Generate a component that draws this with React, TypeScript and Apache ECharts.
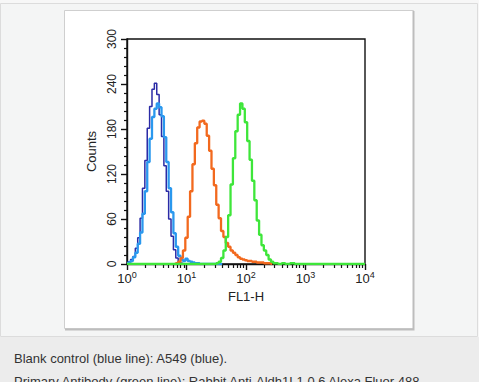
import React, { useEffect, useRef } from "react";
import * as echarts from "echarts";

// Histogram data: [log10(FL1-H), count]
const darkBlue: [number, number][] = [
  [0.0, 2], [0.04, 3], [0.08, 6], [0.12, 10], [0.16, 21], [0.2, 35], [0.24, 61], [0.28, 101],
  [0.32, 138], [0.36, 181], [0.4, 210], [0.44, 233], [0.48, 241], [0.52, 226], [0.56, 199],
  [0.6, 170], [0.64, 131], [0.68, 97], [0.72, 60], [0.76, 37], [0.8, 19], [0.84, 8], [0.88, 3],
  [0.92, 1], [0.96, 0],
];
const lightBlue: [number, number][] = [
  [0.0, 1], [0.04, 2], [0.08, 4], [0.12, 9], [0.16, 15], [0.2, 27], [0.24, 42], [0.28, 67],
  [0.32, 97], [0.36, 136], [0.4, 167], [0.44, 196], [0.48, 207], [0.52, 214], [0.56, 209],
  [0.6, 197], [0.64, 169], [0.68, 136], [0.72, 101], [0.76, 69], [0.8, 41], [0.84, 23], [0.88, 11],
  [0.92, 6], [0.96, 4], [1.0, 7], [1.04, 4], [1.08, 3], [1.12, 2], [1.16, 1], [1.2, 1], [1.24, 0],
  [1.6, 0],
];
const orange: [number, number][] = [
  [0.8, 0], [0.84, 1], [0.88, 3], [0.92, 8], [0.96, 18], [1.0, 35], [1.04, 63], [1.08, 97],
  [1.12, 133], [1.16, 161], [1.2, 182], [1.24, 190], [1.28, 191], [1.32, 187], [1.36, 171],
  [1.4, 151], [1.44, 127], [1.48, 105], [1.52, 79], [1.56, 61], [1.6, 44], [1.64, 36], [1.68, 28],
  [1.72, 23], [1.76, 18], [1.8, 15], [1.84, 12], [1.88, 9], [1.92, 7], [1.96, 6], [2.0, 5],
  [2.04, 4], [2.08, 4], [2.12, 3], [2.16, 3], [2.2, 2], [2.24, 2], [2.28, 2], [2.32, 1],
  [2.36, 1], [2.4, 1], [2.44, 0],
];
const green: [number, number][] = [
  [0.0, 0], [1.48, 0], [1.52, 1], [1.56, 3], [1.6, 8], [1.64, 18], [1.68, 36], [1.72, 65],
  [1.76, 106], [1.8, 141], [1.84, 177], [1.88, 199], [1.92, 214], [1.96, 207], [2.0, 189],
  [2.04, 164], [2.08, 139], [2.12, 111], [2.16, 85], [2.2, 58], [2.24, 39], [2.28, 25],
  [2.32, 18], [2.36, 12], [2.4, 6], [2.44, 3], [2.48, 1], [2.52, 1], [2.56, 0], [2.64, 1],
  [2.68, 0], [2.8, 1], [2.84, 0], [4.0, 0],
];

const xExponents = ["0", "1", "2", "3", "4"];
const yTicks = [0, 60, 120, 180, 240, 300];
const captionLines = [
  "Blank control (blue line): A549 (blue).",
  "Primary Antibody (green line): Rabbit Anti-Aldh1L1 0.6 Alexa Fluor 488",
];

const FONT = "'Liberation Sans', Arial, sans-serif";

export default function App() {
  const ref = useRef<HTMLDivElement>(null);
  useEffect(() => {
    if (!ref.current) return;
    const chart = echarts.init(ref.current, undefined, { renderer: "svg" });
    const minorLog: number[] = [];
    for (let d = 0; d < 4; d++) for (let k = 2; k <= 9; k++) minorLog.push(d + Math.log10(k));

    const mk = (name: string, data: [number, number][], color: string, width: number) => ({
      name,
      type: "line",
      data,
      step: "middle",
      symbol: "none",
      xAxisIndex: 0,
      yAxisIndex: 0,
      lineStyle: { color, width },
      silent: true,
    });

    chart.setOption({
      animation: false,
      backgroundColor: "#ececec",
      textStyle: { fontFamily: FONT },
      graphic: [
        { type: "rect", z: -10, shape: { x: 0, y: 0, width: 479, height: 337 }, style: { fill: "#f7f7f7" } },
        {
          type: "rect", z: -9,
          shape: { x: 0.5, y: 3.5, width: 477, height: 333 },
          style: { fill: "#f4f5f5", stroke: "#dcdcdc", lineWidth: 1 },
        },
        {
          type: "rect", z: -8,
          shape: { x: 64.5, y: 10.5, width: 349, height: 318 },
          style: { fill: "#ffffff", stroke: "#cfcfcf", lineWidth: 1 },
        },
        {
          type: "polyline", z: -7,
          shape: { points: [[413.5, 11], [413.5, 329.5], [65, 329.5]] },
          style: { stroke: "#bdbdbd", lineWidth: 2, fill: "none" },
        },
        {
          type: "text", left: 14, top: 352,
          style: { text: captionLines[0], fill: "#333", font: `13px ${FONT}` },
        },
        {
          type: "text", left: 14, top: 375,
          style: { text: captionLines[1], fill: "#333", font: `13px ${FONT}` },
        },
      ],
      grid: {
        left: 127, top: 39, width: 238, height: 225,
        show: true, borderColor: "#111", borderWidth: 1.4, backgroundColor: "transparent",
      },
      xAxis: [
        {
          type: "value", min: 0, max: 4, interval: 1,
          axisLine: { show: true, lineStyle: { color: "#111", width: 1.4 } },
          axisTick: { show: true, inside: false, length: 6, lineStyle: { color: "#111", width: 1.4 } },
          splitLine: { show: false },
          axisLabel: {
            margin: 6,
            color: "#222",
            formatter: (v: number) => `{b|10}{s|${xExponents[Math.round(v)]}}`,
            rich: {
              b: { fontSize: 13, fontFamily: FONT, color: "#222", lineHeight: 16 },
              s: { fontSize: 9, fontFamily: FONT, color: "#222", verticalAlign: "top", lineHeight: 16 },
            },
          },
          name: "FL1-H",
          nameLocation: "middle",
          nameGap: 26,
          nameTextStyle: { fontSize: 13, color: "#222", fontFamily: FONT },
        },
        {
          type: "value", min: 0, max: 4, position: "bottom",
          axisLine: { show: false },
          axisLabel: { show: false },
          splitLine: { show: false },
          axisTick: { show: true, inside: false, length: 4, customValues: minorLog, lineStyle: { color: "#111", width: 1.2 } },
        },
      ],
      yAxis: {
        type: "value", min: yTicks[0], max: yTicks[yTicks.length - 1], interval: 60,
        axisLine: { show: true, lineStyle: { color: "#111", width: 1.4 } },
        axisTick: { show: true, inside: false, length: 6, lineStyle: { color: "#111", width: 1.4 } },
        minorTick: { show: true, splitNumber: 5, length: 3, lineStyle: { color: "#111", width: 1.2 } },
        splitLine: { show: false },
        axisLabel: { rotate: 90, margin: 9, fontSize: 12, color: "#222", fontFamily: FONT },
        name: "Counts",
        nameLocation: "middle",
        nameGap: 29,
        nameRotate: 90,
        nameTextStyle: { fontSize: 13, color: "#222", fontFamily: FONT },
      },
      series: [
        mk("Blank control", darkBlue, "#2b2ba6", 1.5),
        mk("A549 isotype", lightBlue, "#2a98ee", 2.3),
        mk("Orange", orange, "#f2691e", 2.3),
        mk("Primary antibody", green, "#3ee63a", 2.3),
      ],
    });
    return () => chart.dispose();
  }, []);
  return (
    <div style={{ position: "fixed", left: 0, top: 0, width: 479, height: 382, overflow: "hidden" }}>
      <div ref={ref} style={{ width: 479, height: 382 }} />
    </div>
  );
}
